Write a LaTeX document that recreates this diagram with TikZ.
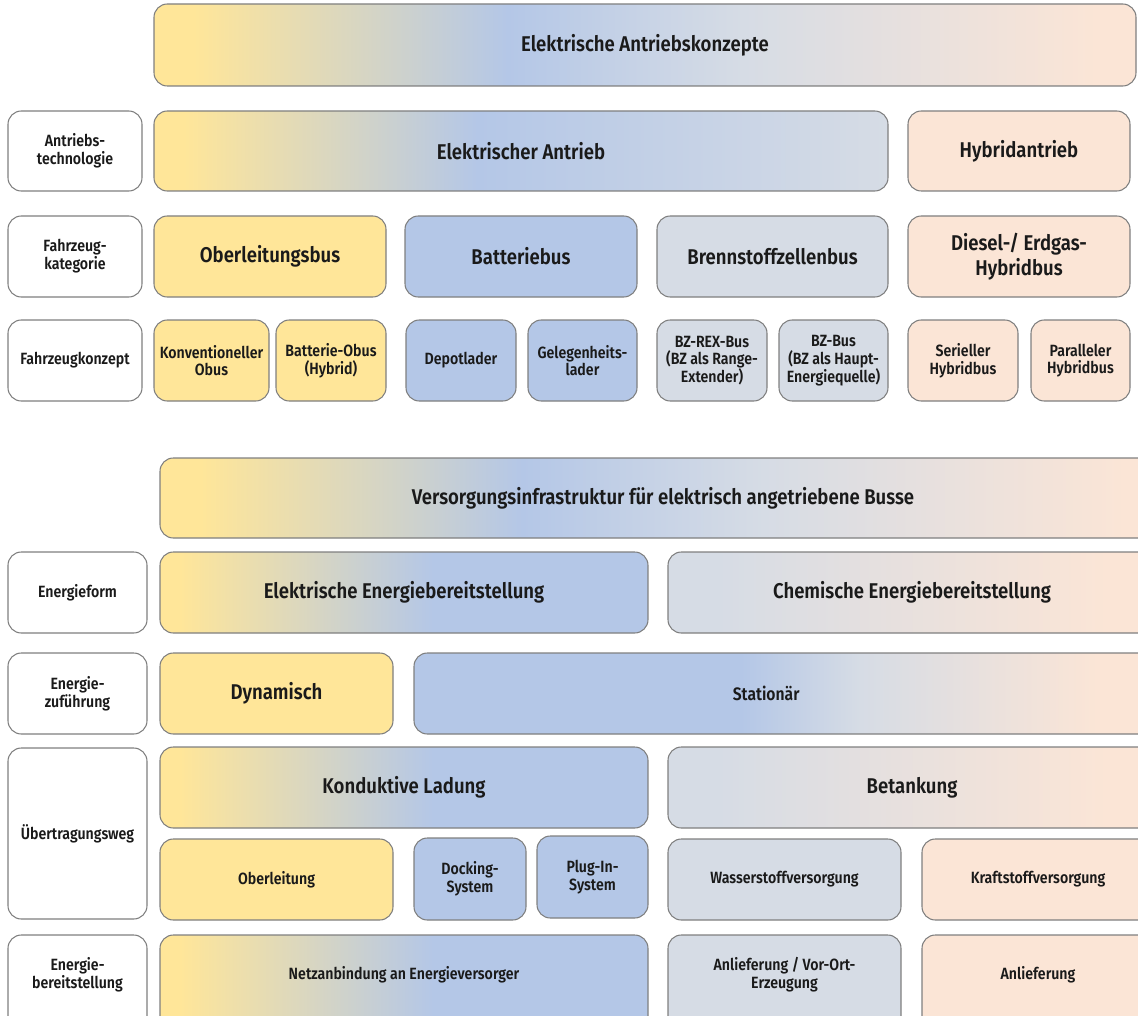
\documentclass[tikz,border=0pt]{standalone}
\usepackage{fontspec}
\setmainfont{Fira Sans}[FakeStretch=0.87, BoldFont={Fira Sans SemiBold}]

\definecolor{gelb}{HTML}{FFE699}
\definecolor{blau}{HTML}{B4C7E7}
\definecolor{grau}{HTML}{D6DCE5}
\definecolor{pfirsich}{HTML}{FBE5D6}
\definecolor{rahmen}{HTML}{7F7F7F}
\definecolor{schrift}{HTML}{1A1A1A}

% Verlaeufe: Pfad liegt zwischen 25bp und 75bp
\pgfdeclarehorizontalshading{gbgp}{100bp}{color(0bp)=(gelb); color(27bp)=(gelb); color(43bp)=(blau); color(55bp)=(grau); color(73bp)=(pfirsich); color(100bp)=(pfirsich)}
\pgfdeclarehorizontalshading{gbg}{100bp}{color(0bp)=(gelb); color(27bp)=(gelb); color(47bp)=(blau); color(75bp)=(grau); color(100bp)=(grau)}
\pgfdeclarehorizontalshading{gb}{100bp}{color(0bp)=(gelb); color(27bp)=(gelb); color(53bp)=(blau); color(100bp)=(blau)}
\pgfdeclarehorizontalshading{gp}{100bp}{color(0bp)=(grau); color(30bp)=(grau); color(70bp)=(pfirsich); color(100bp)=(pfirsich)}
\pgfdeclarehorizontalshading{bgp}{100bp}{color(0bp)=(blau); color(47bp)=(blau); color(55bp)=(grau); color(71bp)=(pfirsich); color(100bp)=(pfirsich)}

\tikzset{
  feld/.style={draw=rahmen, line width=0.8pt, rounded corners=10pt, inner sep=0pt,
    align=center, text=schrift},
  zelle/.style n args={4}{at={({(#1+#3)/2},{(#2+#4)/2})},
    minimum width={(#3-#1)*0.75pt}, minimum height={(#4-#2)*0.75pt}},
  kopf/.style={feld, fill=white, font=\bfseries\fontsize{12.2}{13.3}\selectfont},
  titel/.style={feld, font=\bfseries\fontsize{16}{18.8}\selectfont},
  klein/.style={feld, font=\bfseries\fontsize{12.2}{13.3}\selectfont},
  abgeschnitten/.style={text depth=15pt},
}

\begin{document}
\begin{tikzpicture}[x=0.75pt, y=-0.75pt]
\clip (0,0) rectangle (1138,1016);

% Antriebskonzepte
\node[titel, shading=gbgp, zelle={154}{4}{1136}{86}] (konzepte) {Elektrische Antriebskonzepte};

\node[kopf, zelle={8}{111}{142}{191}] (technologie) {Antriebs-\\technologie};
\node[titel, shading=gbg, zelle={154}{111}{888}{191}] (elantrieb) {Elektrischer Antrieb};
\node[titel, fill=pfirsich, zelle={908}{111}{1130}{191}] (hybrid) {Hybridantrieb};

\node[kopf, zelle={8}{216}{142}{297}] (kategorie) {Fahrzeug-\\kategorie};
\node[titel, fill=gelb, zelle={154}{216}{386}{297}] (obus) {Oberleitungsbus};
\node[titel, fill=blau, zelle={405}{216}{637}{297}] (batterie) {Batteriebus};
\node[titel, fill=grau, zelle={657}{216}{888}{297}] (bzbus) {Brennstoffzellenbus};
\node[titel, fill=pfirsich, zelle={908}{216}{1130}{297}] (diesel) {Diesel-/ Erdgas-\\Hybridbus};

\node[kopf, zelle={8}{320}{142}{401}] (fahrzeugkonzept) {Fahrzeugkonzept};
\node[klein, fill=gelb, zelle={154}{320}{269}{401}] (konv) {Konventioneller\\Obus};
\node[klein, fill=gelb, zelle={276}{320}{386}{401}] (batobus) {Batterie-Obus\\(Hybrid)};
\node[klein, fill=blau, zelle={406}{320}{516}{401}] (depot) {Depotlader};
\node[klein, fill=blau, zelle={528}{320}{637}{401}] (gelegenheit) {Gelegenheits-\\lader};
\node[klein, fill=grau, zelle={657}{320}{767}{401}] (bzrex) {BZ-REX-Bus\\(BZ als Range-\\Extender)};
\node[klein, fill=grau, zelle={779}{320}{888}{401}] (bzhaupt) {BZ-Bus\\(BZ als Haupt-\\Energiequelle)};
\node[klein, fill=pfirsich, zelle={908}{320}{1018}{401}] (seriell) {Serieller\\Hybridbus};
\node[klein, fill=pfirsich, zelle={1031}{320}{1130}{401}] (parallel) {Paralleler\\Hybridbus};

% Versorgungsinfrastruktur
\node[titel, shading=gbgp, zelle={160}{458}{1166}{538}] (versorgung) {Versorgungsinfrastruktur f\"ur elektrisch angetriebene Busse};

\node[kopf, zelle={8}{552}{147}{633}] (energieform) {Energieform};
\node[titel, shading=gb, zelle={160}{552}{648}{633}] (elektrisch) {Elektrische Energiebereitstellung};
\node[titel, shading=gp, zelle={668}{552}{1156}{633}] (chemisch) {Chemische Energiebereitstellung};

\node[kopf, zelle={8}{653}{147}{734}] (zufuehrung) {Energie-\\zuf\"uhrung};
\node[titel, fill=gelb, zelle={160}{653}{393}{734}] (dynamisch) {Dynamisch};
\node[titel, shading=bgp, zelle={414}{653}{1157}{734}, font=\bfseries\fontsize{13.5}{16}\selectfont] (stationaer) {\hspace*{-29pt}Station\"ar};

\node[kopf, zelle={8}{748}{147}{919}] (uebertragung) {\"Ubertragungsweg};
\node[titel, shading=gb, zelle={160}{747}{648}{828}] (konduktiv) {Konduktive Ladung};
\node[titel, shading=gp, zelle={668}{747}{1156}{828}] (betankung) {Betankung};
\node[klein, fill=gelb, zelle={160}{839}{393}{920}] (oberleitung) {Oberleitung};
\node[klein, fill=blau, zelle={414}{838}{526}{920}] (docking) {Docking-\\System};
\node[klein, fill=blau, zelle={537}{836}{648}{918}] (plugin) {Plug-In-\\System};
\node[klein, fill=grau, zelle={668}{839}{901}{920}] (wasserstoff) {Wasserstoffversorgung};
\node[klein, fill=pfirsich, zelle={922}{839}{1154}{920}] (kraftstoff) {Kraftstoffversorgung};

\node[kopf, abgeschnitten, zelle={8}{935}{147}{1031}] (bereitstellung) {Energie-\\bereitstellung};
\node[klein, abgeschnitten, shading=gb, zelle={160}{935}{648}{1031}] (netz) {Netzanbindung an Energieversorger};
\node[klein, abgeschnitten, fill=grau, zelle={668}{935}{901}{1031}] (vorort) {Anlieferung / Vor-Ort-\\Erzeugung};
\node[klein, abgeschnitten, fill=pfirsich, zelle={922}{935}{1154}{1031}] (anlieferung) {Anlieferung};
\end{tikzpicture}
\end{document}
